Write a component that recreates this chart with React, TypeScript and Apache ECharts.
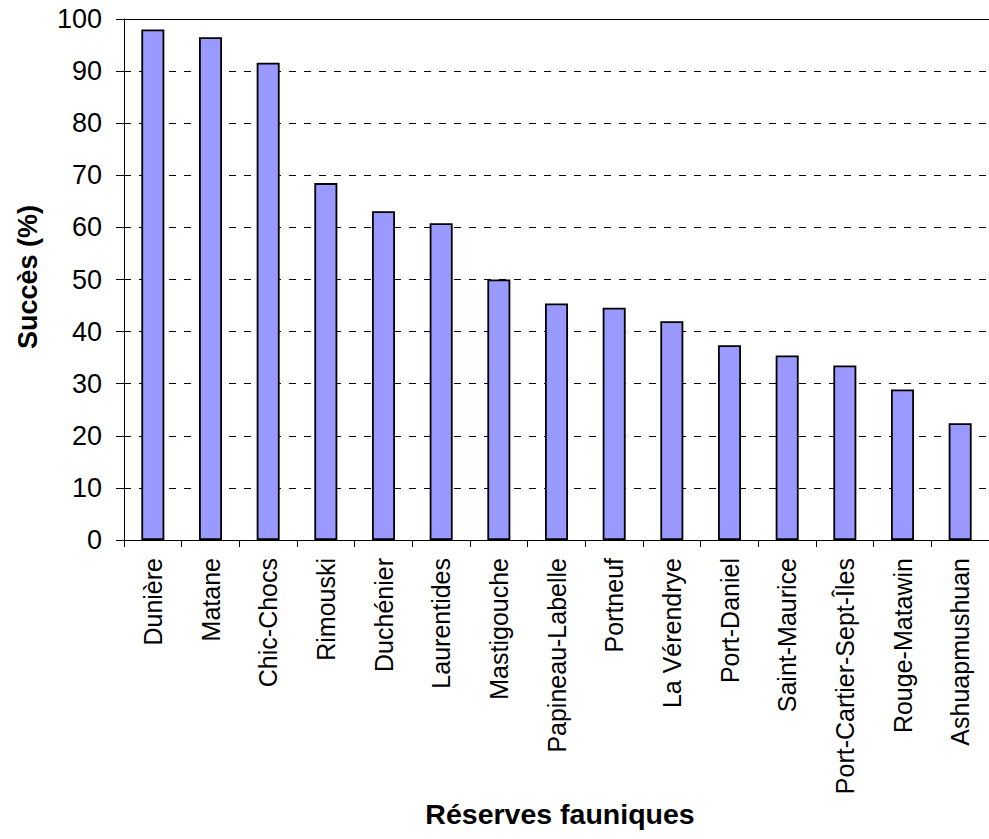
import React, { useEffect, useRef } from "react";
import * as echarts from "echarts";

const categories = [
  "Dunière",
  "Matane",
  "Chic-Chocs",
  "Rimouski",
  "Duchénier",
  "Laurentides",
  "Mastigouche",
  "Papineau-Labelle",
  "Portneuf",
  "La Vérendrye",
  "Port-Daniel",
  "Saint-Maurice",
  "Port-Cartier-Sept-Îles",
  "Rouge-Matawin",
  "Ashuapmushuan",
];

const successValues = [98.0, 96.5, 91.6, 68.5, 63.1, 60.8, 50.0, 45.4, 44.6, 42.0, 37.4, 35.4, 33.5, 28.9, 22.4];

const yAxisTitle = "Succès (%)";
const xAxisTitle = "Réserves fauniques";

const FONT = "'Liberation Sans', Arial, Helvetica, sans-serif";

export default function App() {
  const ref = useRef<HTMLDivElement>(null);

  useEffect(() => {
    if (!ref.current) return;
    const chart = echarts.init(ref.current, undefined, { renderer: "svg" });
    chart.setOption({
      animation: false,
      backgroundColor: "#ffffff",
      grid: { left: 124, top: 19, width: 871, height: 521 },
      xAxis: [
        {
          type: "category",
          data: categories,
          axisLine: { show: true, lineStyle: { color: "#000", width: 1 } },
          axisTick: { show: true, length: 7, lineStyle: { color: "#000", width: 1 } },
          axisLabel: {
            rotate: 90,
            margin: 18,
            fontSize: 25,
            color: "#000",
            fontFamily: FONT,
            interval: 0,
          },
          splitLine: { show: false },
        },
        {
          type: "category",
          data: categories,
          position: "top",
          axisLine: { show: true, lineStyle: { color: "#000", width: 1.2 } },
          axisTick: { show: false },
          axisLabel: { show: false },
          splitLine: { show: false },
        },
      ],
      yAxis: {
        type: "value",
        min: 0,
        max: 100,
        interval: 10,
        axisLine: { show: true, lineStyle: { color: "#000", width: 1 } },
        axisTick: { show: true, length: 8, lineStyle: { color: "#000", width: 1 } },
        axisLabel: {
          margin: 22,
          fontSize: 27,
          color: "#000",
          fontFamily: FONT,
        },
        splitLine: {
          show: true,
          lineStyle: { color: "#000", width: 1, type: [7, 8] },
        },
      },
      graphic: [
        {
          type: "text",
          x: 28,
          y: 277,
          rotation: Math.PI / 2,
          style: {
            text: yAxisTitle,
            fontSize: 27,
            fontWeight: "bold",
            fontFamily: FONT,
            fill: "#000",
            align: "center",
            verticalAlign: "middle",
          },
        },
        {
          type: "text",
          x: 560,
          y: 814,
          style: {
            text: xAxisTitle,
            fontSize: 28.5,
            fontWeight: "bold",
            fontFamily: FONT,
            fill: "#000",
            align: "center",
            verticalAlign: "middle",
          },
        },
      ],
      series: [
        {
          type: "bar",
          data: successValues,
          barWidth: 23,
          itemStyle: { color: "#9999FF", borderColor: "#000", borderWidth: 1.8 },
        },
      ],
    });
    return () => chart.dispose();
  }, []);

  return (
    <div
      ref={ref}
      style={{ position: "absolute", left: 0, top: 0, width: 989, height: 839, overflow: "hidden" }}
    />
  );
}
